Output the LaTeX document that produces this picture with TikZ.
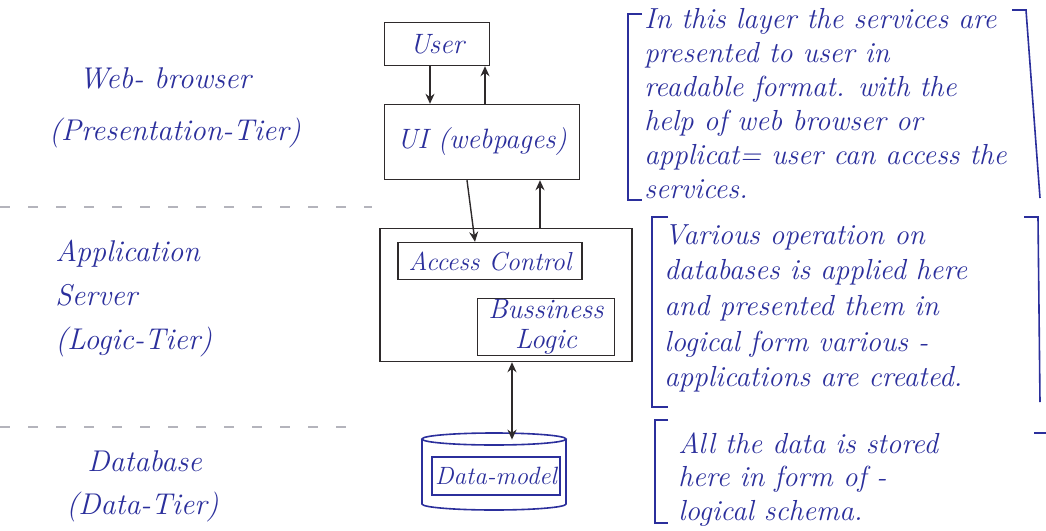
\documentclass[tikz,border=0pt]{standalone}
\usepackage{tikz}
\usepackage{xcolor}
\usetikzlibrary{positioning,arrows.meta,calc}
\definecolor{InkBlue}{HTML}{2B2F9C}
\definecolor{PenBlack}{HTML}{2E2A2B}
\definecolor{RuleGray}{HTML}{B4B4BC}
\newcommand{\hand}[2]{\fontsize{#1}{#2}\selectfont\itshape}
\newcommand{\tiernote}[4]{\node[anchor=north west,inner sep=0pt,align=left,text=InkBlue,font=\hand{14.5}{#3}] (#1) at (#2) {#4};}

\begin{document}
\begin{tikzpicture}[x=0.5pt,y=-0.5pt,
  tierbox/.style={draw=PenBlack,line width=0.7pt,inner sep=0pt,text=InkBlue,font=\hand{14}{15}},
  flow/.style={draw=PenBlack,line width=0.7pt,-{Stealth[length=5pt,width=4.5pt]}},
  twoway/.style={draw=PenBlack,line width=0.8pt,{Stealth[length=5pt,width=4.5pt]}-{Stealth[length=5pt,width=4.5pt]}},
  tierrule/.style={draw=RuleGray,line width=0.6pt,dash pattern=on 5pt off 9pt},
  notebracket/.style={draw=InkBlue,line width=0.8pt}]
  \fill[white] (0,0) rectangle (1046,531);
  \useasboundingbox (0,0) rectangle (1046,531);

  % tier names on the left
  \node[text=InkBlue,font=\hand{15}{16}] (webname) at (165,78) {Web- browser};
  \node[text=InkBlue,font=\hand{15}{16}] (webtier) at (175,133) {(Presentation-Tier)};
  \node[anchor=north west,inner sep=0pt,align=left,text=InkBlue,font=\hand{15}{22}] (appname) at (55,240) {Application\\ Server\\(Logic-Tier)};
  \node[anchor=north west,inner sep=0pt,align=left,text=InkBlue,font=\hand{15}{21.5}] (dbname) at (66,450) {\ \ Database\\(Data-Tier)};

  \draw[tierrule] (0,207) -- (372,207);
  \draw[tierrule] (0,427) -- (352,427);

  % the three tiers
  \node[tierbox,minimum width=52.5pt,minimum height=21.5pt] (user) at (437,44) {User};
  \node[tierbox,minimum width=97.5pt,minimum height=37.5pt] (ui) at (482,142) {UI (webpages)};
  \node[draw=PenBlack,line width=0.7pt,minimum width=126pt,minimum height=66.5pt] (appsrv) at (506,295) {};
  \node[tierbox,minimum width=92pt,minimum height=18.5pt,font=\hand{13}{14}] (access) at (490,261) {Access Control};
  \node[tierbox,minimum width=68.5pt,minimum height=28.5pt,align=center] (logic) at (546,327) {Bussiness\\Logic};
  \node[minimum width=73pt,minimum height=39pt,inner sep=0pt] (dbcyl) at (494,472) {};
  \draw[InkBlue,line width=0.8pt] (494,439) ellipse [x radius=72,y radius=6];
  \draw[InkBlue,line width=0.8pt] (422,439) -- (422,504) arc [start angle=180,end angle=0,x radius=72,y radius=6] -- (566,439);
  \node[tierbox,draw=InkBlue,minimum width=64pt,minimum height=19pt,font=\hand{12.5}{13}] (datamodel) at (496,476) {Data-model};

  \draw[flow] ([xshift=-3.5pt]user.south) -- ([xshift=-3.5pt]user.south |- ui.north);
  \draw[flow] ([xshift=24pt]user.south |- ui.north) -- ([xshift=24pt]user.south);
  \draw[flow] ([xshift=-7.5pt]ui.south) -- ([xshift=-7.5pt]access.north);
  \draw[flow] ([xshift=17pt]appsrv.north) -- ([xshift=17pt]appsrv.north |- ui.south);
  \draw[twoway] ([xshift=3pt]appsrv.south) -- ([xshift=3pt,yshift=-3.5pt]appsrv.south |- dbcyl.north);

  % notes on the right
  \tiernote{presnote}{644,8}{17}{In this layer the services are\\presented to user in\\readable format. with the\\help of web browser or\\applicat= user can access the\\services.}
  \draw[notebracket] (642,14) -- (628,14) -- (628,200) -- (642,200);
  \draw[notebracket] (1012,10) -- (1026,10) -- (1040,198);
  \tiernote{logicnote}{664,224}{17.8}{Various operation on\\databases is applied here\\and presented them in\\logical form various -\\applications are created.}
  \draw[notebracket] (668,217) -- (652,217) -- (652,407) -- (668,407);
  \draw[notebracket] (1024,217) -- (1038,217) -- (1040,402);
  \tiernote{datanote}{678,432}{16.8}{All the data is stored\\here in form of -\\logical schema.}
  \draw[notebracket] (668,420) -- (655,420) -- (655,523) -- (668,523);
  \draw[notebracket] (1034,433) -- (1046,433);
\end{tikzpicture}
\end{document}
